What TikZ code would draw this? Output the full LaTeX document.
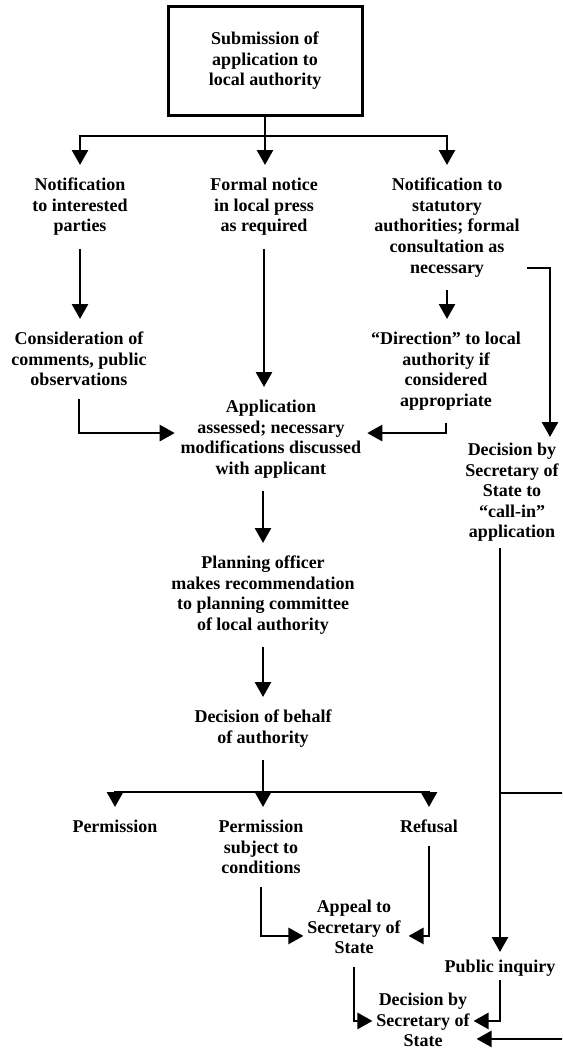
\documentclass[tikz,border=0pt]{standalone}
\usepackage{fontspec}
\setmainfont{Liberation Serif}
\usetikzlibrary{arrows.meta,calc}
\begin{document}
\begin{tikzpicture}[x=1pt,y=-1pt,
  lbl/.style={font=\bfseries\fontsize{18}{20.6}\selectfont, align=center,
    inner xsep=3pt, inner ysep=0pt, outer ysep=13pt, outer xsep=1pt, anchor=north},
  boxnode/.style={draw, line width=3pt, font=\bfseries\fontsize{18}{20.6}\selectfont,
    align=center, minimum width=194pt, minimum height=108pt, inner sep=0pt},
  ln/.style={draw, line width=2.7pt},
  arr/.style={ln, -{Triangle[length=15pt,width=16pt]}}]
\path[use as bounding box] (0,0) rectangle (562,1049);
\clip (0,0) rectangle (562,1049);
\fill[white] (0,0) rectangle (562,1049);

\node[boxnode] (sub) at (265,61) {Submission of\\application to\\local authority};

\node[lbl] (n1) at (80,165) {Notification\\to interested\\parties};
\node[lbl] (n2) at (264,165) {Formal notice\\in local press\\as required};
\node[lbl] (n3) at (447,165) {Notification to\\statutory\\authorities; formal\\consultation as\\necessary};

\node[lbl] (c1) at (79,319) {Consideration of\\comments, public\\observations};
\node[lbl] (d1) at (446,319) {“Direction” to local\\authority if\\considered\\appropriate};

\node[lbl] (app) at (271,387) {Application\\assessed; necessary\\modifications discussed\\with applicant};
\node[lbl] (call) at (512,430) {Decision by\\Secretary of\\State to\\“call-in”\\application};

\node[lbl] (plan) at (263,543) {Planning officer\\makes recommendation\\to planning committee\\of local authority};
\node[lbl] (dec) at (263,697) {Decision of behalf\\of authority};

\node[lbl] (perm) at (115,807) {Permission};
\node[lbl] (perms) at (261,807) {Permission\\subject to\\conditions};
\node[lbl] (ref) at (429,807) {Refusal};

\node[lbl] (appeal) at (354,887) {Appeal to\\Secretary of\\State};
\node[lbl] (pub) at (500,947) {Public inquiry};
\node[lbl] (final) at (423,980) {Decision by\\Secretary of\\State};

% top tree
\coordinate (j0) at (265,136);
\draw[ln] (sub.south) -- (j0);
\draw[arr] (j0) -| (n1.north);
\draw[arr] (j0) -| (n3.north);
\draw[arr] (j0) -- (j0 |- n2.north);

\draw[arr] (n1.south) -- (n1.south |- c1.north);
\draw[arr] (n2.south) -- (n2.south |- app.north);
\draw[arr] (n3.south) -- (n3.south |- d1.north);
\draw[arr] ($(n3.south east)+(3,-22)$) -| ($(call.north)+(38,7)$);

\draw[arr] (c1.south) |- ($(app.west)+(-2,-6)$);
\draw[arr] (d1.south) |- ($(app.east)+(2,-6)$);

\draw[arr] (plan.north |- app.south) -- (plan.north);
\draw[arr] (plan.south) -- (dec.north);

\coordinate (j1) at (263,792);
\draw[ln] (dec.south) -- (j1);
\draw[arr] (j1) -| (perm.north);
\draw[arr] (j1) -| (ref.north);
\draw[arr] (j1) -- (j1 |- perms.north);

\draw[arr] (perms.south) |- ($(appeal.west)+(0,9)$);
\draw[arr] (ref.south) |- ($(appeal.east)+(4,9)$);

\draw[arr] ($(pub.north |- call.south)+(0,-7)$) -- ($(pub.north)+(0,5)$);
\coordinate (r0) at (500,793);
\draw[arr] (r0) -- (585,793) |- ($(final.east)+(3,19)$);

\draw[arr] (appeal.south) |- ($(final.west)+(0,1)$);
\draw[arr] ($(pub.south)+(0,-9)$) |- ($(final.east)+(0,1)$);
\end{tikzpicture}
\end{document}
